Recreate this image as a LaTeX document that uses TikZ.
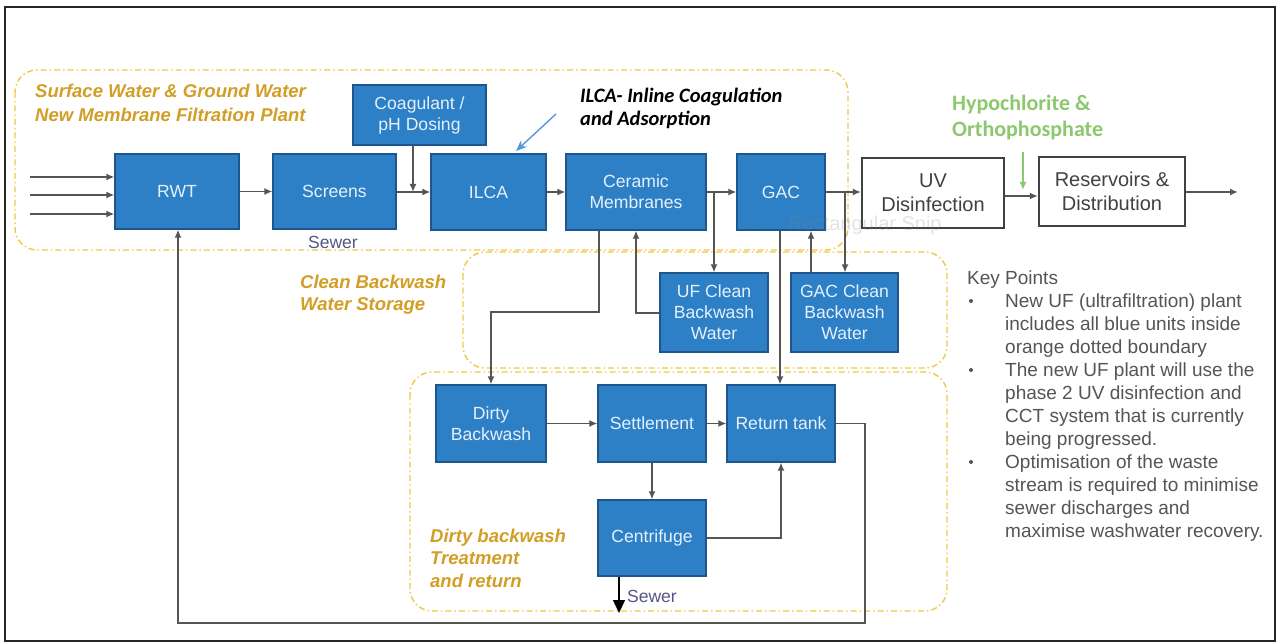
\documentclass[tikz,border=0pt]{standalone}
\usepackage{fontspec}
\setmainfont{Liberation Sans}
\newfontfamily\calfont{Carlito}
\usetikzlibrary{arrows.meta}
\definecolor{boxblue}{RGB}{46,128,198}
\definecolor{boxedge}{RGB}{30,85,140}
\definecolor{boxtext}{RGB}{228,240,252}
\definecolor{zonegold}{RGB}{210,158,38}
\definecolor{dashgold}{RGB}{240,200,70}
\definecolor{linegray}{RGB}{85,85,85}
\definecolor{sewerblue}{RGB}{85,85,135}
\definecolor{hypogreen}{RGB}{140,200,110}
\definecolor{annblue}{RGB}{90,150,220}
\definecolor{keygray}{RGB}{85,85,85}
\definecolor{uvgray}{RGB}{65,65,65}
\begin{document}
\begin{tikzpicture}[x=1pt,y=-1pt,
  bluebox/.style={draw=boxedge, line width=1.2pt, fill=boxblue, text=boxtext, align=center,
    font=\fontsize{17.6}{21}\selectfont, inner sep=0pt},
  whitebox/.style={draw=uvgray, line width=2.2pt, fill=white, text=uvgray, align=center,
    font=\fontsize{20}{24}\selectfont, inner sep=0pt},
  flow/.style={draw=linegray, line width=1.7pt, -{Latex[length=8pt,width=7pt]}},
  region/.style={draw=dashgold, line width=1.4pt, dash pattern=on 6pt off 3pt on 1.5pt off 3pt,
    rounded corners=22pt},
  zonelabel/.style={text=zonegold, font=\fontsize{18.5}{22}\selectfont\bfseries\itshape,
    anchor=base west, inner sep=0pt},
  sewerlabel/.style={text=sewerblue, font=\fontsize{17.5}{21}\selectfont, inner sep=0pt},
  keyline/.style={text=keygray, font=\fontsize{19}{23}\selectfont, anchor=base west, inner sep=0pt},
  keybullet/.style={fill=keygray, circle, inner sep=0pt, minimum size=4pt},
  annlabel/.style={text=black, font=\fontsize{20.5}{24}\calfont\bfseries\itshape, anchor=base west, inner sep=0pt},
  hypolabel/.style={text=hypogreen, font=\fontsize{22}{26}\calfont\bfseries, anchor=base west, inner sep=0pt}
]
\useasboundingbox (0,0) rectangle (1279,644);
\fill[white] (0,0) rectangle (1279,644);
\draw[line width=2pt, black!85] (5,7) rectangle (1275,641);

% dashed zones
\draw[region] (15,70) rectangle (848,250);
\draw[region] (463,252) rectangle (947,368);
\draw[region] (410,372) rectangle (947,611);

% zone labels
\node[zonelabel] (z1a) at (35,98) {Surface Water \& Ground Water};
\node[zonelabel] (z1b) at (35,122) {New Membrane Filtration Plant};
\node[zonelabel] (z2a) at (300,288) {Clean Backwash};
\node[zonelabel] (z2b) at (300,310) {Water Storage};
\node[zonelabel] (z3a) at (430,542) {Dirty backwash};
\node[zonelabel] (z3b) at (430,564) {Treatment};
\node[zonelabel] (z3c) at (430,587) {and return};

% main line boxes
\node[bluebox, minimum width=124pt, minimum height=75pt] (rwt) at (177,191.5) {RWT};
\node[bluebox, minimum width=123pt, minimum height=75pt] (scr) at (334.5,191.5) {Screens};
\node[bluebox, minimum width=133pt, minimum height=60pt] (coag) at (419.5,115) {Coagulant /\\pH Dosing};
\node[bluebox, minimum width=115pt, minimum height=76pt] (ilca) at (488.5,192) {ILCA};
\node[bluebox, minimum width=140pt, minimum height=76pt] (cer) at (636,192) {Ceramic\\Membranes};
\node[bluebox, minimum width=88pt, minimum height=76pt] (gac) at (781,192) {GAC};
\node[whitebox, minimum width=142pt, minimum height=70pt] (uv) at (933,193) {UV\\Disinfection};
\node[whitebox, minimum width=146pt, minimum height=69pt] (res) at (1112,191.5) {Reservoirs \&\\Distribution};

% backwash boxes
\node[bluebox, minimum width=108pt, minimum height=79pt] (ufc) at (714,312.5) {UF Clean\\Backwash\\Water};
\node[bluebox, minimum width=107pt, minimum height=79pt] (gacc) at (844.5,312.5) {GAC Clean\\Backwash\\Water};
\node[bluebox, minimum width=110pt, minimum height=77pt] (dirty) at (491,423.5) {Dirty\\Backwash};
\node[bluebox, minimum width=108pt, minimum height=77pt] (set) at (652,423.5) {Settlement};
\node[bluebox, minimum width=108pt, minimum height=77pt] (ret) at (781,423.5) {Return tank};
\node[bluebox, minimum width=108pt, minimum height=76pt] (cen) at (652,538) {Centrifuge};

% faint watermark
\node[text=gray, opacity=0.22, font=\fontsize{20}{24}\selectfont, anchor=base west, inner sep=0pt] (snip) at (788,231) {Rectangular Snip};
\node[draw=gray, opacity=0.25, circle, minimum size=9pt, inner sep=0pt] (snipicon) at (757,224) {};

% inputs
\coordinate (in1) at (30,177);
\coordinate (in2) at (30,195);
\coordinate (in3) at (30,214);
\draw[flow] (in1) -- (in1 -| rwt.west);
\draw[flow] (in2) -- (in2 -| rwt.west);
\draw[flow] (in3) -- (in3 -| rwt.west);

% main flow
\draw[flow] (rwt.east) -- (rwt.east -| scr.west);
\coordinate (cj) at (413,192);
\draw[flow] (scr.east |- cj) -- (cj -| ilca.west);
\draw[flow] (coag.south -| cj) -- (cj);
\draw[flow] (ilca.east) -- (ilca.east -| cer.west);
\draw[flow] (cer.east) -- (cer.east -| gac.west);
\draw[flow] (gac.east) -- (gac.east -| uv.west);
\coordinate (ur) at (1000,196);
\draw[flow] (uv.east |- ur) -- (ur -| res.west);
\coordinate (out) at (1238,192);
\draw[flow] (res.east |- out) -- (out);

% chemical dosing
\coordinate (g1) at (1023,152);
\coordinate (g2) at (1023,190);
\draw[draw=hypogreen, line width=1.5pt, -{Latex[length=8pt,width=7pt]}] (g1) -- (g2);
\node[hypolabel] (hyp1) at (952,111) {Hypochlorite \&};
\node[hypolabel] (hyp2) at (952,137) {Orthophosphate};

% ILCA annotation
\node[annlabel] (ann1) at (580,103) {ILCA- Inline Coagulation};
\node[annlabel] (ann2) at (580,126) {and Adsorption};
\coordinate (a1) at (556,114);
\coordinate (a2) at (516,151);
\draw[draw=annblue, line width=1.4pt, -{Stealth[length=11pt,width=9pt]}] (a1) -- (a2);

% backwash connections
\coordinate (cb) at (599,312);
\draw[flow] (cer.south -| cb) -- (cb) -| (dirty.north);
\coordinate (ub) at (636,313);
\draw[flow] (ufc.west |- ub) -| (cer.south -| ub);
\coordinate (j1) at (714,192);
\draw[flow] (j1) -- (ufc.north);
\coordinate (gr) at (780,300);
\draw[flow] (gac.south -| gr) -- (ret.north -| gr);
\coordinate (gu) at (811,300);
\draw[flow] (gacc.north -| gu) -- (gac.south -| gu);
\coordinate (j2) at (845,192);
\draw[flow] (j2) -- (gacc.north -| j2);

% dirty backwash treatment
\draw[flow] (dirty.east) -- (dirty.east -| set.west);
\draw[flow] (set.east) -- (set.east -| ret.west);
\draw[flow] (set.south) -- (cen.north);
\draw[flow] (cen.east) -| (ret.south);
\coordinate (lr) at (865,623);
\coordinate (ll) at (178,623);
\draw[flow] (ret.east) -| (lr) -- (ll) -- (rwt.south -| ll);
\coordinate (sw) at (619,613);
\draw[draw=black, line width=1.5pt, -{Triangle[length=13pt,width=12pt]}] (cen.south -| sw) -- (sw);

% sewer labels
\node[sewerlabel] (sew1) at (333,242) {Sewer};
\node[sewerlabel] (sew2) at (652,596) {Sewer};

% key points
\node[text=keygray, font=\fontsize{19}{23}\selectfont, anchor=base west, inner sep=0pt] (kp) at (967,284) {Key Points};
\node[keybullet] (b1) at (971,301) {};
\node[keybullet] (b2) at (971,370) {};
\node[keybullet] (b3) at (971,462) {};
\node[keyline] (k1) at (1005,307) {New UF (ultrafiltration) plant};
\node[keyline] (k2) at (1005,330) {includes all blue units inside};
\node[keyline] (k3) at (1005,353) {orange dotted boundary};
\node[keyline] (k4) at (1005,376) {The new UF plant will use the};
\node[keyline] (k5) at (1005,399) {phase 2 UV disinfection and};
\node[keyline] (k6) at (1005,422) {CCT system that is currently};
\node[keyline] (k7) at (1005,445) {being progressed.};
\node[keyline] (k8) at (1005,468) {Optimisation of the waste};
\node[keyline] (k9) at (1005,491) {stream is required to minimise};
\node[keyline] (k10) at (1005,514) {sewer discharges and};
\node[keyline] (k11) at (1005,537) {maximise washwater recovery.};
\end{tikzpicture}
\end{document}
